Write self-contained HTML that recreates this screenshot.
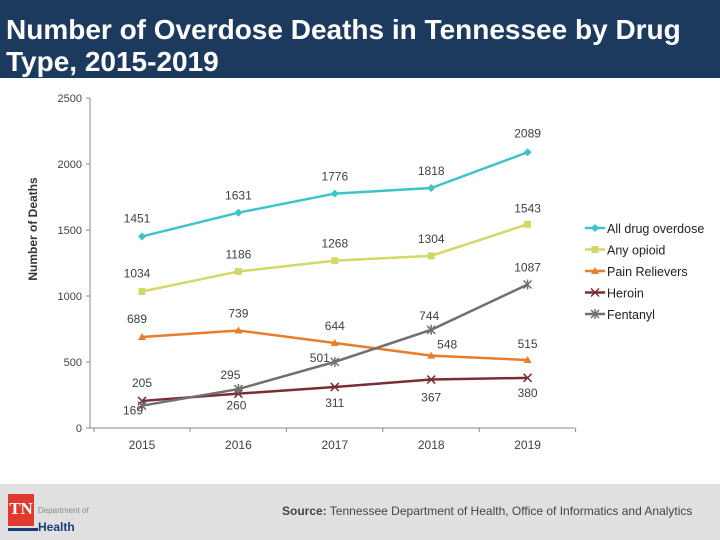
<!DOCTYPE html>
<html><head><meta charset="utf-8"><style>
body{margin:0;width:720px;height:540px;background:#fff;overflow:hidden;font-family:"Liberation Sans",sans-serif;position:relative}
#title{position:absolute;left:0;top:0;width:720px;height:78px;background:#1c3a5e;color:#fff;font-size:28px;font-weight:bold;line-height:32px;padding:14px 0 0 6px;box-sizing:border-box;white-space:nowrap}
#footer{position:absolute;left:0;top:484px;width:720px;height:56px;background:#e0e0e0}
svg{position:absolute;left:0;top:0}
</style></head><body>
<div id="title">Number of Overdose Deaths in Tennessee by Drug<br>Type, 2015-2019</div>
<div id="footer">
 <div style="position:absolute;left:8px;top:10px;width:26px;height:32px;background:#e03a2f;color:#fff;font:bold 17px 'Liberation Serif',serif;text-align:center;line-height:30px">TN</div>
 <div style="position:absolute;left:8px;top:44px;width:30px;height:3px;background:#1c3a7a"></div>
 <div style="position:absolute;left:38px;top:22px;font-size:8px;color:#888">Department of</div>
 <div style="position:absolute;left:38px;top:36px;font-size:12px;font-weight:bold;color:#1c3a7a">Health</div>
 <div style="position:absolute;left:282px;top:20px;font-size:12px;color:#444"><b>Source:</b> Tennessee Department of Health, Office of Informatics and Analytics</div>
</div>
<svg id="chart" width="720" height="540"></svg>
<script>
const years=["2015","2016","2017","2018","2019"];
const yTicks=[0,500,1000,1500,2000,2500];
const allDrug=[1451,1631,1776,1818,2089];
const anyOpioid=[1034,1186,1268,1304,1543];
const painRelievers=[689,739,644,548,515];
const heroin=[205,260,311,367,380];
const fentanyl=[169,295,501,744,1087];
const seriesNames=["All drug overdose","Any opioid","Pain Relievers","Heroin","Fentanyl"];
const NS="http://www.w3.org/2000/svg";
const svg=document.getElementById('chart');
const x=i=>142+i*96.4;
const y=v=>428-v*330/2500;
function mk(t,a,p){const e=document.createElementNS(NS,t);for(const k in a)e.setAttribute(k,a[k]);(p||svg).appendChild(e);return e;}
function txt(s,xx,yy,anchor,size,fill){const e=mk('text',{x:xx,y:yy,'text-anchor':anchor||'middle','font-size':size||12,fill:fill||'#404040','font-family':'Liberation Sans, sans-serif'});e.textContent=s;return e;}
const ax=mk('line',{x1:90,y1:y(2500),x2:90,y2:428,stroke:'#888'});

const xa=mk('line',{x1:90,y1:428,x2:575,y2:428,stroke:'#888'});

yTicks.forEach(v=>{mk('line',{x1:86,y1:y(v),x2:90,y2:y(v),stroke:'#888'});
 const t=txt(String(v),82,y(v)+4,'end',11);});
years.forEach((s,i)=>{mk('line',{x1:x(i)+48,y1:428,x2:x(i)+48,y2:432,stroke:'#888'});
 const t=txt(s,x(i),449,'middle',12);});
mk('line',{x1:x(0)-48,y1:428,x2:x(0)-48,y2:432,stroke:'#888'});
const yt=txt('Number of Deaths',0,0,'middle',12,'#333');yt.setAttribute('transform','translate(37,229) rotate(-90)');yt.setAttribute('font-weight','bold');

const series=[
 {d:allDrug,c:'#3cc4c8',m:'diamond',dx:[-5,0,0,0,0],dy:[-14,-13,-13,-13,-15]},
 {d:anyOpioid,c:'#d4d866',m:'square',dx:[-5,0,0,0,0],dy:[-14,-13,-13,-13,-12]},
 {d:painRelievers,c:'#e87d2a',m:'triangle',dx:[-5,0,0,16,0],dy:[-14,-13,-13,-7,-12]},
 {d:heroin,c:'#7b2c35',m:'x',dx:[0,-2,0,0,0],dy:[-14,16,20,22,19]},
 {d:fentanyl,c:'#707070',m:'star',dx:[-9,-8,-15,-2,0],dy:[9,-10,0,-10,-13]}
];
function marker(g,m,cx,cy,c){
 if(m==='diamond')mk('path',{d:`M${cx} ${cy-4}L${cx+4} ${cy}L${cx} ${cy+4}L${cx-4} ${cy}Z`,fill:c},g);
 else if(m==='square')mk('rect',{x:cx-3.5,y:cy-3.5,width:7,height:7,fill:c},g);
 else if(m==='triangle')mk('path',{d:`M${cx} ${cy-4}L${cx+4} ${cy+3}L${cx-4} ${cy+3}Z`,fill:c},g);
 else{mk('path',{d:`M${cx-4} ${cy-4}L${cx+4} ${cy+4}M${cx-4} ${cy+4}L${cx+4} ${cy-4}`+(m==='star'?`M${cx} ${cy-5}V${cy+5}`:''),stroke:c,'stroke-width':1.5},g);}
}
series.forEach((s,k)=>{
 const g=mk('g',{});
 
 
 mk('polyline',{points:s.d.map((v,i)=>x(i)+','+y(v)).join(' '),fill:'none',stroke:s.c,'stroke-width':2.5},g);
 s.d.forEach((v,i)=>{marker(g,s.m,x(i),y(v),s.c);
  const t=txt(String(v),x(i)+s.dx[i],y(v)+s.dy[i],'middle',12);
  g.appendChild(t);});
 const lg=mk('g',{});
 
 
 const ly=228+k*21.5;
 mk('line',{x1:585,y1:ly,x2:605,y2:ly,stroke:s.c,'stroke-width':2.5},lg);
 marker(lg,s.m,595,ly,s.c);
 const lt=txt(seriesNames[k],607,ly+5,'start',12.5,'#222');lg.appendChild(lt);
});
</script>
</body></html>
